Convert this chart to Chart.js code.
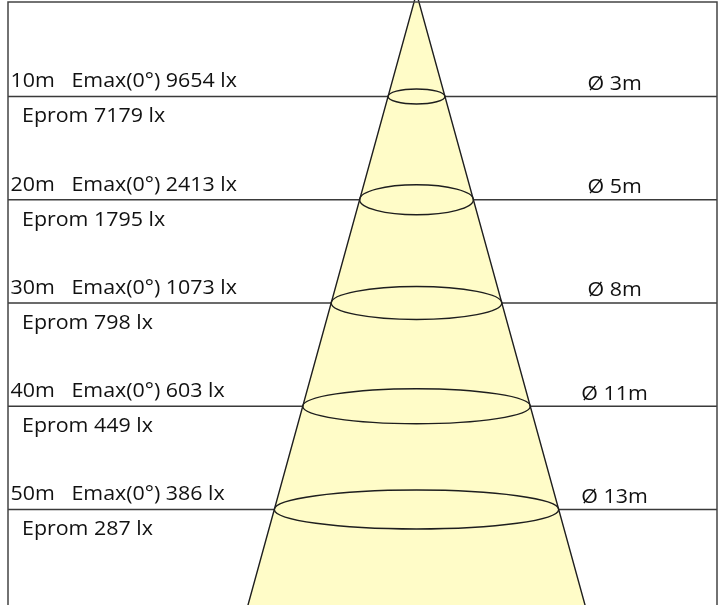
<!DOCTYPE html>
<html>
<head>
<meta charset="utf-8">
<script src="https://cdn.jsdelivr.net/npm/chart.js@4"></script>
<style>
  html, body { margin: 0; padding: 0; background: #fff; }
  #wrap { width: 722px; height: 605px; position: relative; }
</style>
</head>
<body>
<div id="wrap"><canvas id="c"></canvas></div>
<script>
// ---- data ----
const distances = [10, 20, 30, 40, 50];           // m
const emaxLux   = [9654, 2413, 1073, 603, 386];    // Emax(0°) lx
const epromLux  = [7179, 1795, 798, 449, 287];     // Eprom lx
const diameters = [3, 5, 8, 11, 13];               // Ø m
const beamAngle = 15;                              // degrees (cone)

// ---- scale settings ----
const X_MIN = -18.91, X_MAX = 13.91;
const Y_MIN = 0.85, Y_MAX = 59.25;
const CONE_END = 62;
const halfW = d => d * Math.tan(beamAngle / 2 * Math.PI / 180);

const lineColor = '#3a3a3a';
const edgeColor = '#1e1e1e';
const coneFill = '#FFFCC8';
const FONT = '20px "Open Sans"';
const TEXT_SX = 1.07;
const ellipseRy = [7.5, 15, 16.5, 17.5, 19.5];

const datasets = [];
datasets.push({
  label: 'cone',
  data: [{x: -halfW(CONE_END), y: CONE_END}, {x: 0, y: 0}, {x: halfW(CONE_END), y: CONE_END}],
  showLine: true, fill: 'shape', backgroundColor: coneFill,
  borderColor: edgeColor, borderWidth: 1.4, pointRadius: 0, tension: 0,
  clip: false, order: 1
});
distances.forEach((d) => {
  datasets.push({
    label: d + 'm',
    data: [{x: X_MIN, y: d}, {x: X_MAX, y: d}],
    showLine: true, fill: false, borderColor: lineColor, borderWidth: 1.4,
    pointRadius: 0, order: 2
  });
});

function drawText(ctx, txt, x, y, align) {
  ctx.save();
  ctx.font = FONT;
  ctx.fillStyle = '#111';
  ctx.textBaseline = 'alphabetic';
  const w = ctx.measureText(txt).width * TEXT_SX;
  let x0 = x;
  if (align === 'center') x0 = x - w / 2;
  ctx.translate(x0, y);
  ctx.scale(TEXT_SX, 1);
  ctx.textAlign = 'left';
  ctx.fillText(txt, 0, 0);
  ctx.restore();
}

const beamPlugin = {
  id: 'beam',
  afterDatasetsDraw(chart) {
    const {ctx, scales: {x, y}, chartArea} = chart;
    const cx = x.getPixelForValue(0);
    // ellipses
    distances.forEach((d, i) => {
      const cy = y.getPixelForValue(d);
      const rx = x.getPixelForValue(halfW(d)) - cx;
      ctx.save();
      ctx.beginPath();
      ctx.ellipse(cx, cy, rx, ellipseRy[i], 0, 0, Math.PI * 2);
      ctx.strokeStyle = edgeColor;
      ctx.lineWidth = 1.4;
      ctx.stroke();
      ctx.restore();
    });
    // labels
    distances.forEach((d, i) => {
      const ly = y.getPixelForValue(d);
      drawText(ctx, d + 'm   Emax(0°) ' + emaxLux[i] + ' lx', chartArea.left + 2.5, ly - 9);
      drawText(ctx, 'Eprom ' + epromLux[i] + ' lx', chartArea.left + 14, ly + 26);
      drawText(ctx, 'Ø ' + diameters[i] + 'm', x.getPixelForValue(9.17), ly - 6.5, 'center');
    });
    // frame
    ctx.save();
    ctx.strokeStyle = '#444';
    ctx.lineWidth = 1.5;
    ctx.beginPath();
    ctx.moveTo(chartArea.left, chart.height);
    ctx.lineTo(chartArea.left, chartArea.top);
    ctx.lineTo(chartArea.right, chartArea.top);
    ctx.lineTo(chartArea.right, chart.height);
    ctx.stroke();
    ctx.restore();
  }
};

new Chart(document.getElementById('c'), {
  type: 'scatter',
  data: { datasets },
  options: {
    responsive: true,
    maintainAspectRatio: false,
    animation: false,
    layout: { padding: { left: 8, right: 5, top: 2, bottom: 0 } },
    plugins: { legend: { display: false }, tooltip: { enabled: false } },
    scales: {
      x: { type: 'linear', min: X_MIN, max: X_MAX, display: false },
      y: { type: 'linear', min: Y_MIN, max: Y_MAX, reverse: true, display: false }
    }
  },
  plugins: [beamPlugin]
});
</script>
</body>
</html>
